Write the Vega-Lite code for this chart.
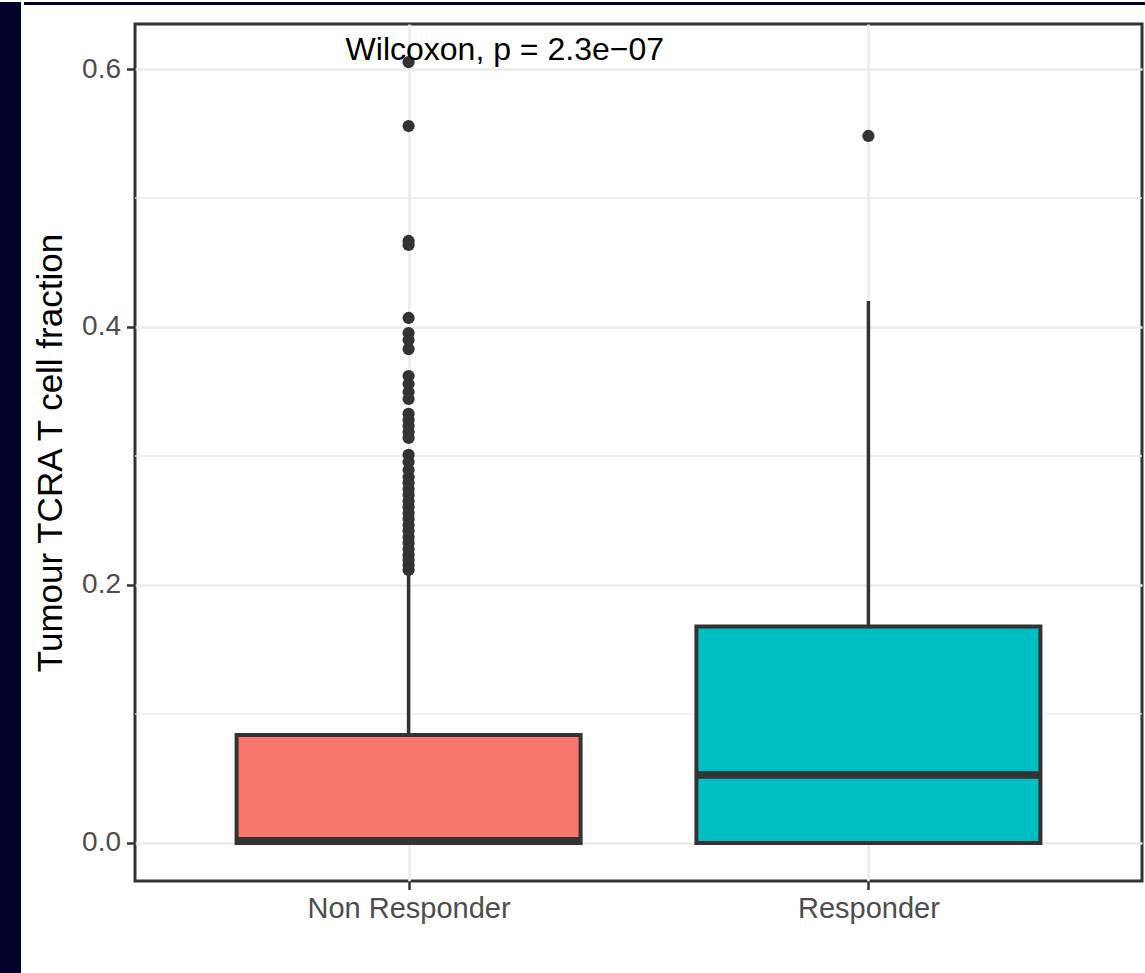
{
  "$schema": "https://vega.github.io/schema/vega-lite/v6.json",
  "background": "white",
  "padding": 0,
  "config": {
    "concat": {"spacing": 0},
    "font": "Liberation Sans",
    "view": {"stroke": null},
    "axisX": {"grid": true, "gridColor": "#ebebeb", "gridWidth": 2.6, "domain": false, "tickColor": "#333333", "tickWidth": 2.5, "tickSize": 8.5, "labelPadding": 5, "labelFontSize": 29, "labelColor": "#4d4d4d", "labelAngle": 0, "labelFont": "Liberation Sans", "labelLimit": 0},
    "axisY": {"grid": true, "gridColor": "#ebebeb", "gridWidth": 2.6, "domain": false, "tickColor": "#333333", "tickWidth": 2.5, "tickSize": 8.5, "labelPadding": 6, "labelFontSize": 28, "labelColor": "#4d4d4d", "labelFont": "Liberation Sans", "titleFontSize": 35, "titleFontWeight": "normal", "titleColor": "#000000", "titleFont": "Liberation Sans", "titlePadding": 13}
  },
  "datasets": {
    "summary": [
      {"group": "Non Responder", "lower": 0, "q1": 0, "median": 0.0018, "q3": 0.0837, "upper": 0.2095},
      {"group": "Responder", "lower": 0, "q1": 0, "median": 0.0527, "q3": 0.1678, "upper": 0.4202}
    ],
    "outliers": [
      {"group": "Non Responder", "value": 0.6054},
      {"group": "Non Responder", "value": 0.5558},
      {"group": "Non Responder", "value": 0.4667},
      {"group": "Non Responder", "value": 0.4636},
      {"group": "Non Responder", "value": 0.4070},
      {"group": "Non Responder", "value": 0.3953},
      {"group": "Non Responder", "value": 0.3899},
      {"group": "Non Responder", "value": 0.3829},
      {"group": "Non Responder", "value": 0.3620},
      {"group": "Non Responder", "value": 0.3558},
      {"group": "Non Responder", "value": 0.3496},
      {"group": "Non Responder", "value": 0.3442},
      {"group": "Non Responder", "value": 0.3326},
      {"group": "Non Responder", "value": 0.3279},
      {"group": "Non Responder", "value": 0.3233},
      {"group": "Non Responder", "value": 0.3186},
      {"group": "Non Responder", "value": 0.3140},
      {"group": "Non Responder", "value": 0.3008},
      {"group": "Non Responder", "value": 0.2953},
      {"group": "Non Responder", "value": 0.2891},
      {"group": "Non Responder", "value": 0.2837},
      {"group": "Non Responder", "value": 0.2791},
      {"group": "Non Responder", "value": 0.2744},
      {"group": "Non Responder", "value": 0.2698},
      {"group": "Non Responder", "value": 0.2651},
      {"group": "Non Responder", "value": 0.2605},
      {"group": "Non Responder", "value": 0.2558},
      {"group": "Non Responder", "value": 0.2512},
      {"group": "Non Responder", "value": 0.2465},
      {"group": "Non Responder", "value": 0.2419},
      {"group": "Non Responder", "value": 0.2372},
      {"group": "Non Responder", "value": 0.2326},
      {"group": "Non Responder", "value": 0.2279},
      {"group": "Non Responder", "value": 0.2233},
      {"group": "Non Responder", "value": 0.2194},
      {"group": "Non Responder", "value": 0.2155},
      {"group": "Non Responder", "value": 0.2116},
      {"group": "Responder", "value": 0.5481}
    ],
    "minor": [{"y": 0.1}, {"y": 0.3}, {"y": 0.5}],
    "label": [{"group": "Non Responder", "y": 0.6147, "text": "Wilcoxon, p = 2.3e−07"}]
  },
  "hconcat": [
    {"width": 21, "height": 973, "view": {"fill": "#02022a", "stroke": null}, "data": {"values": [{}]}, "mark": {"type": "point", "opacity": 0}},
    {
      "spacing": 15,
      "vconcat": [
        {"width": 1124, "height": 3, "view": {"fill": "#02022a", "stroke": null}, "data": {"values": [{}]}, "mark": {"type": "point", "opacity": 0}},
        {
          "spacing": 4,
          "hconcat": [
            {"width": 1, "height": 10, "data": {"values": [{}]}, "mark": {"type": "point", "opacity": 0}},
            {
              "width": 1007,
              "height": 857,
              "view": {"stroke": "#333333", "strokeWidth": 3, "fill": "white"},
              "layer": [
                {
                  "data": {"name": "minor"},
                  "mark": {"type": "rule", "color": "#ebebeb", "strokeWidth": 1.3},
                  "encoding": {
                    "y": {"field": "y", "type": "quantitative", "title": "Tumour TCRA T cell fraction", "scale": {"domain": [-0.0295, 0.6349], "nice": false, "zero": false}, "axis": {"values": [0, 0.2, 0.4, 0.6], "format": ".1f"}}
                  }
                },
                {
                  "data": {"name": "summary"},
                  "mark": {"type": "rule", "color": "#333333", "strokeWidth": 3.5},
                  "encoding": {
                    "x": {"field": "group", "type": "nominal", "title": null, "scale": {"type": "point", "padding": 0.595, "domain": ["Non Responder", "Responder"]}},
                    "y": {"field": "q3", "type": "quantitative", "title": "Tumour TCRA T cell fraction", "axis": {"values": [0, 0.2, 0.4, 0.6], "format": ".1f"}},
                    "y2": {"field": "upper"}
                  }
                },
                {
                  "data": {"name": "summary"},
                  "mark": {"type": "bar", "width": 344, "stroke": "#333333", "strokeWidth": 4},
                  "encoding": {
                    "x": {"field": "group", "type": "nominal", "title": null},
                    "y": {"field": "q1", "type": "quantitative", "title": "Tumour TCRA T cell fraction", "axis": {"values": [0, 0.2, 0.4, 0.6], "format": ".1f"}},
                    "y2": {"field": "q3"},
                    "color": {"field": "group", "type": "nominal", "scale": {"domain": ["Non Responder", "Responder"], "range": ["#F8766D", "#00BFC4"]}, "legend": null}
                  }
                },
                {
                  "data": {"name": "summary"},
                  "mark": {"type": "tick", "size": 347, "thickness": 7.5, "color": "#333333", "opacity": 1},
                  "encoding": {
                    "x": {"field": "group", "type": "nominal", "title": null},
                    "y": {"field": "median", "type": "quantitative", "title": "Tumour TCRA T cell fraction", "axis": {"values": [0, 0.2, 0.4, 0.6], "format": ".1f"}}
                  }
                },
                {
                  "data": {"name": "outliers"},
                  "mark": {"type": "circle", "size": 150, "color": "#333333", "opacity": 1},
                  "encoding": {
                    "x": {"field": "group", "type": "nominal", "title": null},
                    "y": {"field": "value", "type": "quantitative", "title": "Tumour TCRA T cell fraction", "axis": {"values": [0, 0.2, 0.4, 0.6], "format": ".1f"}}
                  }
                },
                {
                  "data": {"name": "label"},
                  "mark": {"type": "text", "align": "left", "baseline": "middle", "dx": -63, "fontSize": 32, "color": "#000000", "font": "Liberation Sans"},
                  "encoding": {
                    "x": {"field": "group", "type": "nominal", "title": null},
                    "y": {"field": "y", "type": "quantitative", "title": "Tumour TCRA T cell fraction", "axis": {"values": [0, 0.2, 0.4, 0.6], "format": ".1f"}},
                    "text": {"field": "text"}
                  }
                }
              ]
            }
          ]
        }
      ]
    }
  ]
}
